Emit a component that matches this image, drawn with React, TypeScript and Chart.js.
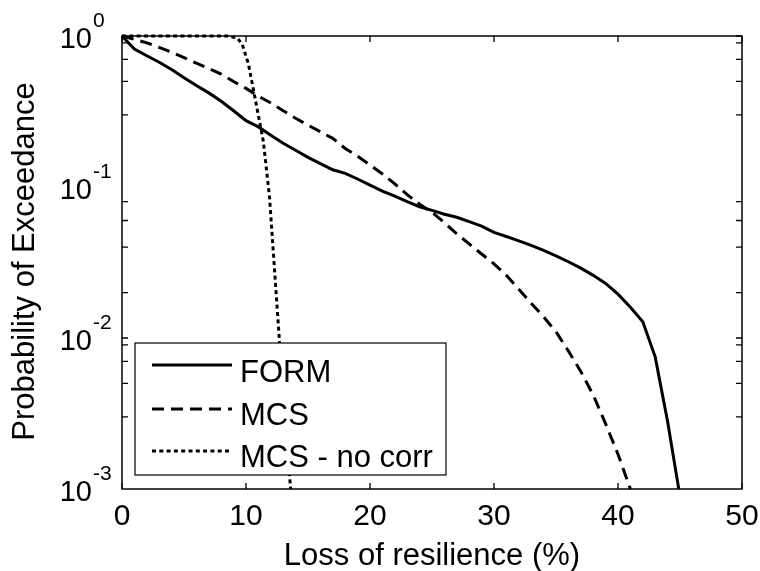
import React, { useEffect, useRef } from 'react';
import { Chart, registerables } from 'chart.js';

Chart.register(...registerables);

// ---------- data ----------
const seriesLabels = ['FORM', 'MCS', 'MCS - no corr'];

const formX = [0, 1, 2, 3, 4, 5, 6, 7, 8, 9, 10, 11, 12, 13, 14, 15, 16, 17, 18, 19, 20, 21, 22, 23, 24, 25, 26, 27, 28, 29, 30, 31, 32, 33, 34, 35, 36, 37, 38, 39, 40, 41, 42, 43, 44, 44.9];
const formP = [1, 0.82, 0.74, 0.67, 0.6, 0.53, 0.47, 0.42, 0.37, 0.32, 0.275, 0.25, 0.22, 0.195, 0.175, 0.157, 0.143, 0.13, 0.123, 0.113, 0.103, 0.094, 0.087, 0.08, 0.074, 0.07, 0.066, 0.063, 0.059, 0.055, 0.05, 0.047, 0.044, 0.041, 0.038, 0.035, 0.032, 0.029, 0.026, 0.023, 0.0195, 0.016, 0.0128, 0.0075, 0.0028, 0.001];

const mcsX = [0, 1, 2, 3, 4, 5, 6, 7, 8, 9, 10, 11, 12, 13, 14, 15, 16, 17, 18, 19, 20, 21, 22, 23, 24, 25, 26, 27, 28, 29, 30, 31, 32, 33, 34, 35, 36, 37, 38, 39, 40, 41];
const mcsP = [1, 0.95, 0.9, 0.84, 0.78, 0.72, 0.66, 0.61, 0.56, 0.5, 0.45, 0.4, 0.36, 0.32, 0.285, 0.257, 0.232, 0.21, 0.18, 0.16, 0.14, 0.122, 0.105, 0.089, 0.077, 0.068, 0.058, 0.049, 0.042, 0.036, 0.031, 0.026, 0.021, 0.017, 0.0138, 0.011, 0.0082, 0.006, 0.0042, 0.0027, 0.0017, 0.001];

const noCorrX = [0, 8.5, 9.3, 9.7, 10.2, 10.7, 11.4, 11.9, 12.7, 13.2, 13.6];
const noCorrP = [1, 1, 0.97, 0.88, 0.65, 0.4, 0.2, 0.085, 0.0095, 0.0025, 0.001];

const xTickValues = [0, 10, 20, 30, 40, 50];
const yExponents = [0, -1, -2, -3];

const xTitle = 'Loss of resilience (%)';
const yTitle = 'Probability of Exceedance';

const FONT = "'Liberation Sans', Arial, Helvetica, sans-serif";

const toPoints = (xs: number[], ys: number[]) => xs.map((x, i) => ({ x, y: ys[i] }));

const matlabAxes = {
  id: 'matlabAxes',
  afterDatasetsDraw(chart: any) {
    const { ctx, chartArea: a, scales } = chart;
    const xs = scales.x;
    const ys = scales.y;
    ctx.save();

    // axes box
    ctx.strokeStyle = '#000';
    ctx.lineWidth = 1.5;
    ctx.strokeRect(a.left, a.top, a.right - a.left, a.bottom - a.top);

    // ticks (inside, on all four sides)
    const tl = 6;
    ctx.lineWidth = 1.3;
    ctx.beginPath();
    xs.ticks.forEach((t: any) => {
      const px = xs.getPixelForValue(t.value);
      ctx.moveTo(px, a.bottom);
      ctx.lineTo(px, a.bottom - tl);
      ctx.moveTo(px, a.top);
      ctx.lineTo(px, a.top + tl);
    });
    ys.ticks.forEach((t: any) => {
      const py = ys.getPixelForValue(t.value);
      ctx.moveTo(a.left, py);
      ctx.lineTo(a.left + tl, py);
      ctx.moveTo(a.right, py);
      ctx.lineTo(a.right - tl, py);
    });
    ctx.stroke();

    // x tick labels
    ctx.fillStyle = '#000';
    ctx.font = `30px ${FONT}`;
    ctx.textAlign = 'center';
    ctx.textBaseline = 'alphabetic';
    xTickValues.forEach((v) => {
      ctx.fillText(String(v), xs.getPixelForValue(v), a.bottom + 36);
    });

    // y tick labels 10^e
    yExponents.forEach((e) => {
      const py = ys.getPixelForValue(Math.pow(10, e));
      ctx.font = `29px ${FONT}`;
      ctx.textAlign = 'right';
      ctx.fillText('10', 92, py + 11.5);
      ctx.font = `21px ${FONT}`;
      ctx.textAlign = 'left';
      ctx.fillText(String(e), 93, py - 9);
    });

    // axis titles
    ctx.font = `31px ${FONT}`;
    ctx.textAlign = 'center';
    ctx.fillText(xTitle, (a.left + a.right) / 2, 565);
    ctx.save();
    ctx.translate(34, (a.top + a.bottom) / 2 - 1);
    ctx.rotate(-Math.PI / 2);
    ctx.fillText(yTitle, 0, 0);
    ctx.restore();

    // legend
    const box = { l: 135, t: 343, r: 446, b: 475 };
    ctx.fillStyle = '#fff';
    ctx.fillRect(box.l, box.t, box.r - box.l, box.b - box.t);
    ctx.strokeStyle = '#000';
    ctx.lineWidth = 1.2;
    ctx.strokeRect(box.l, box.t, box.r - box.l, box.b - box.t);
    const lineYs = [365, 409, 451];
    const textYs = [382, 425, 467];
    chart.data.datasets.forEach((ds: any, i: number) => {
      ctx.save();
      ctx.strokeStyle = ds.borderColor;
      ctx.lineWidth = ds.borderWidth;
      ctx.setLineDash(ds.borderDash || []);
      ctx.beginPath();
      ctx.moveTo(152, lineYs[i]);
      ctx.lineTo(232, lineYs[i]);
      ctx.stroke();
      ctx.restore();
      ctx.fillStyle = '#000';
      ctx.font = `31px ${FONT}`;
      ctx.textAlign = 'left';
      ctx.fillText(ds.label, 240, textYs[i]);
    });

    ctx.restore();
  },
};

export default function App() {
  const canvasRef = useRef<HTMLCanvasElement | null>(null);

  useEffect(() => {
    if (!canvasRef.current) return;
    const common = { borderColor: '#000', borderWidth: 3, pointRadius: 0, tension: 0, fill: false, clip: 4 };
    const chart = new Chart(canvasRef.current, {
      type: 'line',
      data: {
        datasets: [
          { ...common, label: seriesLabels[0], data: toPoints(formX, formP), borderDash: [] },
          { ...common, label: seriesLabels[1], data: toPoints(mcsX, mcsP), borderDash: [12, 7] },
          { ...common, label: seriesLabels[2], data: toPoints(noCorrX, noCorrP), borderDash: [4, 3.3] },
        ],
      } as any,
      options: {
        animation: false,
        responsive: false,
        events: [],
        layout: { padding: { left: 122, top: 36, right: 18, bottom: 82 } },
        plugins: { legend: { display: false }, tooltip: { enabled: false } },
        scales: {
          x: {
            type: 'linear',
            min: 0,
            max: 50,
            display: false,
            afterBuildTicks: (s: any) => {
              s.ticks = xTickValues.map((v) => ({ value: v }));
            },
          },
          y: {
            type: 'logarithmic',
            min: 0.001,
            max: 1,
            display: false,
            afterBuildTicks: (s: any) => {
              const t: { value: number }[] = [];
              yExponents.forEach((e) => {
                t.push({ value: Math.pow(10, e) });
                if (e > Math.min(...yExponents)) {
                  for (let m = 2; m <= 9; m++) t.push({ value: m * Math.pow(10, e - 1) });
                }
              });
              s.ticks = t;
            },
          },
        },
      } as any,
      plugins: [matlabAxes],
    });
    return () => chart.destroy();
  }, []);

  return (
    <div style={{ position: 'absolute', left: 0, top: 0, width: 760, height: 571, background: '#fff' }}>
      <canvas ref={canvasRef} width={760} height={571} style={{ display: 'block', width: 760, height: 571 }} />
    </div>
  );
}
